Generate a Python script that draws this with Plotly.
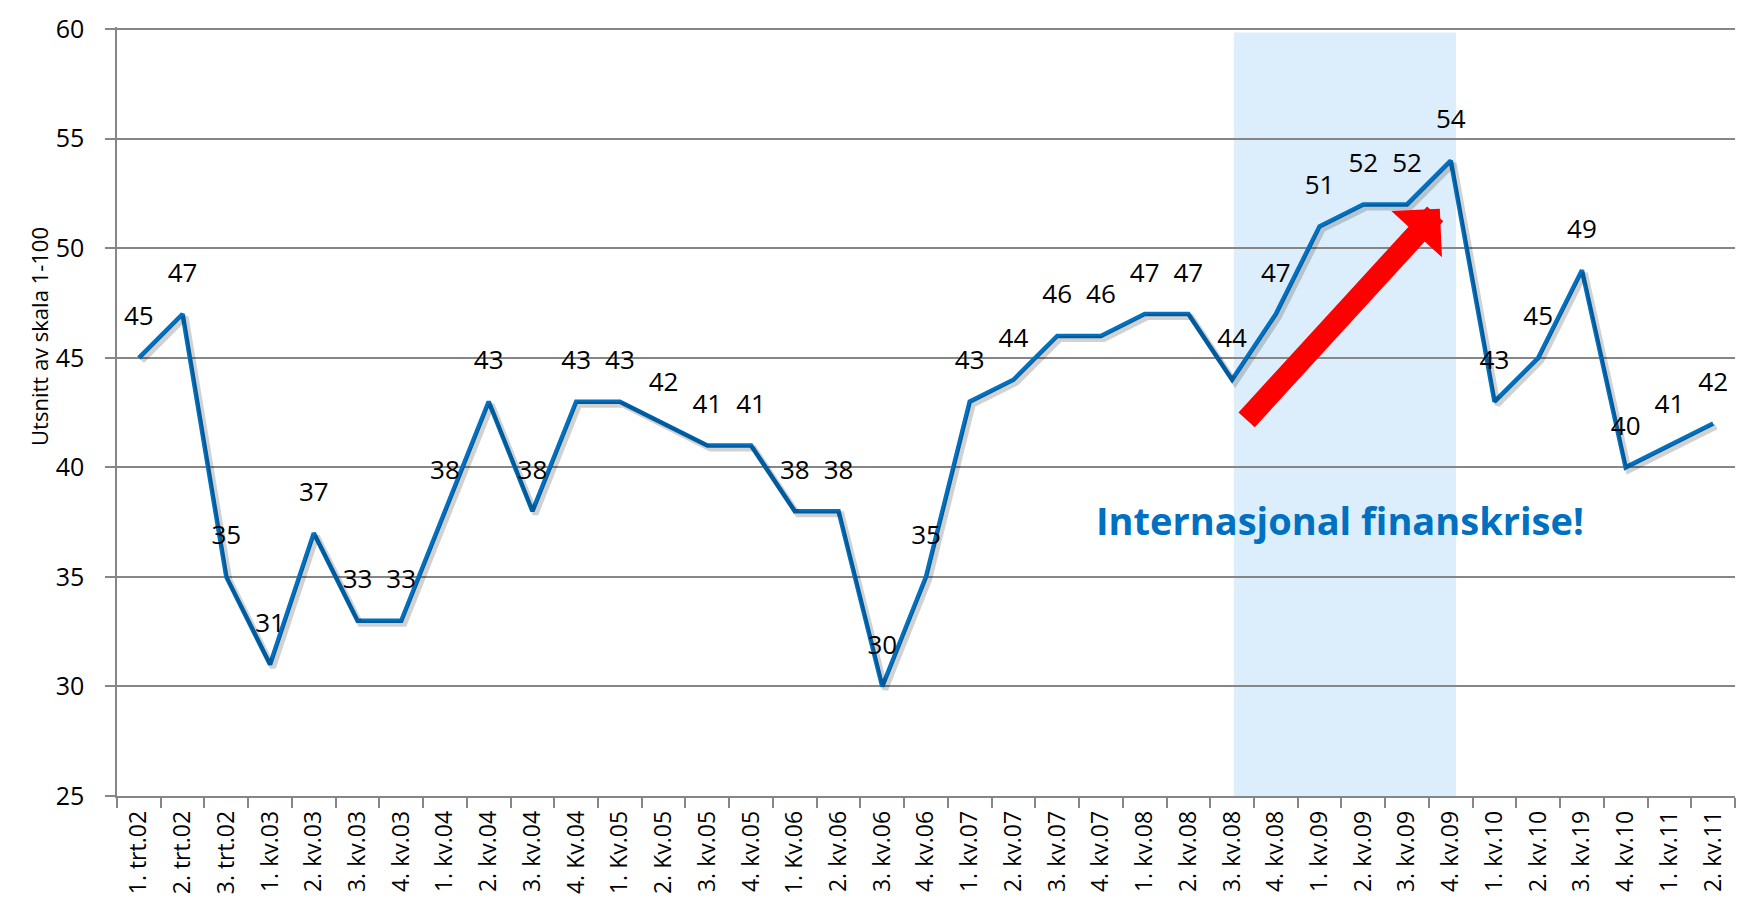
import plotly.graph_objects as go

categories = ["1. trt.02", "2. trt.02", "3. trt.02", "1. kv.03", "2. kv.03", "3. kv.03", "4. kv.03",
              "1. kv.04", "2. kv.04", "3. kv.04", "4. Kv.04", "1. Kv.05", "2. Kv.05", "3. kv.05",
              "4. kv.05", "1. Kv.06", "2. kv.06", "3. kv.06", "4. kv.06", "1. kv.07", "2. kv.07",
              "3. kv.07", "4. kv.07", "1. kv.08", "2. kv.08", "3. kv.08", "4. kv.08", "1. kv.09",
              "2. kv.09", "3. kv.09", "4. kv.09", "1. kv.10", "2. kv.10", "3. kv.19", "4. kv.10",
              "1. kv.11", "2. kv.11"]
values = [45, 47, 35, 31, 37, 33, 33, 38, 43, 38, 43, 43, 42, 41, 41, 38, 38, 30, 35, 43, 44,
          46, 46, 47, 47, 44, 47, 51, 52, 52, 54, 43, 45, 49, 40, 41, 42]
y_ticks = [25, 30, 35, 40, 45, 50, 55, 60]

band_x = [25.04, 30.12]
band_y = [25, 59.85]
arrow_tail = (25.3, 42.1)
arrow_tip = (29.75, 51.8)
note_pos = (27.47, 37.62)

BLUE = "#0070C0"
GRID = "#868686"
FONT = "Open Sans"
idx = list(range(len(categories)))
y_lo, y_hi = y_ticks[0], y_ticks[-1] + 0.1

fig = go.Figure()

# soft shadow of the line, drawn on a slightly shifted overlay axis
fig.add_trace(go.Scatter(x=idx, y=values, mode="lines", xaxis="x2", yaxis="y2",
                         line=dict(color="rgba(0,0,0,0.18)", width=6),
                         hoverinfo="skip", showlegend=False))

fig.add_trace(go.Scatter(
    x=categories, y=values, mode="lines+markers+text",
    line=dict(color=BLUE, width=4.5),
    marker=dict(size=40, color="rgba(0,0,0,0)"),
    text=[str(v) for v in values], textposition="top center",
    textfont=dict(family=FONT, size=26, color="black"),
    cliponaxis=False, showlegend=False))

fig.add_shape(type="rect", xref="x", yref="y", x0=band_x[0], x1=band_x[1],
              y0=band_y[0], y1=band_y[1], fillcolor="#DCEEFC", line=dict(width=0), layer="below")

fig.add_annotation(x=arrow_tip[0], y=arrow_tip[1], ax=arrow_tail[0], ay=arrow_tail[1],
                   xref="x", yref="y", axref="x", ayref="y", showarrow=True, text="",
                   arrowhead=1, arrowsize=0.52, arrowwidth=22, arrowcolor="#FF0000")

fig.add_annotation(x=note_pos[0], y=note_pos[1], xref="x", yref="y", showarrow=False,
                   text="<b>Internasjonal finanskrise!</b>",
                   font=dict(family=FONT, size=38, color=BLUE))

fig.add_annotation(x=-0.0587, y=0.597, xref="paper", yref="paper", showarrow=False,
                   text="Utsnitt av skala 1-100", textangle=-90,
                   font=dict(family=FONT, size=22, color="black"))

dx = 3 / 43.73
dy = 3 / 21.9
fig.update_layout(
    width=1729, height=907,
    margin=dict(l=109, r=2, t=19, b=119),
    paper_bgcolor="white", plot_bgcolor="white",
    font=dict(family=FONT, color="black"),
    xaxis=dict(type="category", range=[-0.5, len(categories) - 0.5], tickson="boundaries",
               ticks="outside", ticklen=10, tickcolor=GRID, tickwidth=1.5,
               tickangle=-90, tickfont=dict(family=FONT, size=23, color="black"),
               showgrid=False, showline=True, linecolor=GRID, linewidth=1.5,
               ticklabelstandoff=4, automargin=False),
    yaxis=dict(range=[y_lo, y_hi], tickvals=y_ticks, ticks="outside", ticklen=10,
               tickcolor=GRID, tickwidth=1.5, tickfont=dict(family=FONT, size=25, color="black"),
               showgrid=True, gridcolor=GRID, gridwidth=1.5, showline=True, linecolor=GRID,
               linewidth=1.5, zeroline=False, ticklabelstandoff=16, automargin=False,
               ticklabeloverflow="allow"),
    xaxis2=dict(overlaying="x", range=[-0.5 - dx, len(categories) - 0.5 - dx], visible=False),
    yaxis2=dict(overlaying="y", range=[y_lo + dy, y_hi + dy], visible=False),
)

fig.write_html("out.html")
